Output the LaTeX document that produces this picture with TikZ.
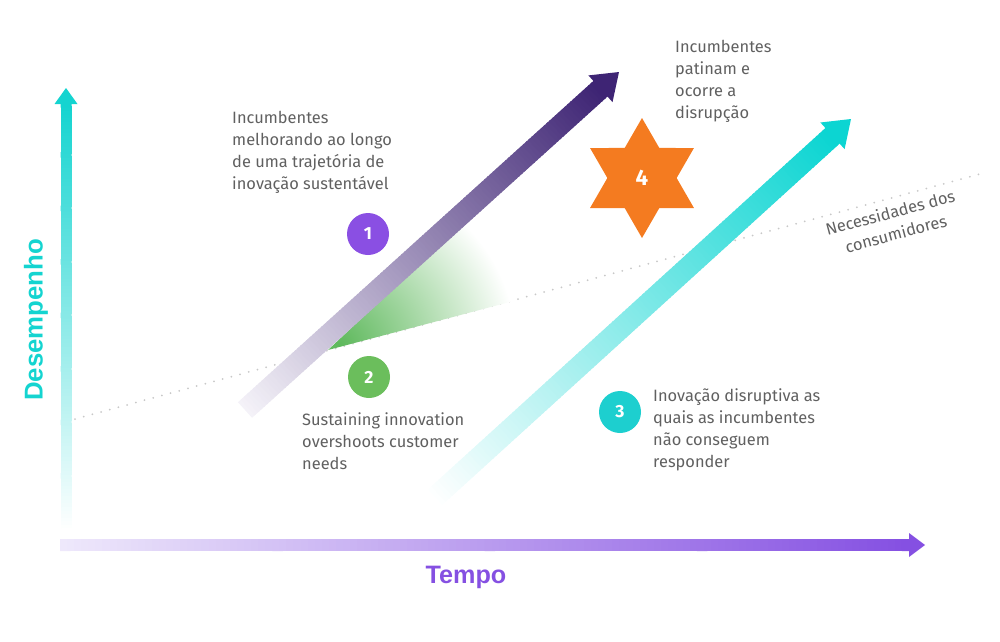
\documentclass[tikz,border=0pt]{standalone}
\usepackage{fontspec}
\setmainfont{Fira Sans}
\newfontfamily\axisfont{Liberation Sans}
\usetikzlibrary{calc,shapes.geometric}

\definecolor{textgray}{HTML}{606060}
\definecolor{dotgray}{HTML}{C8C8C8}
\definecolor{axiscyan}{HTML}{14D4D0}
\definecolor{axislav}{HTML}{EEE8FB}
\definecolor{axispurple}{HTML}{8550E2}
\definecolor{purplewhite}{HTML}{F4F2F8}
\definecolor{purpledeep}{HTML}{3E2474}
\definecolor{arrowcyan}{HTML}{0CD5D2}
\definecolor{wedgegreen}{HTML}{5DB85B}
\definecolor{dotpurple}{HTML}{8A4FE3}
\definecolor{dotgreen}{HTML}{6BBE5C}
\definecolor{dotcyan}{HTML}{1DCFCF}
\definecolor{starorange}{HTML}{F47B20}

\pgfdeclareradialshading{wedgefade}{\pgfpoint{0bp}{0bp}}{%
  color(0bp)=(wedgegreen); color(9bp)=(wedgegreen!60!white);
  color(22bp)=(white); color(50bp)=(white)}

% from, to, shaft width, head half width, head length, start colour, end colour
\newcommand{\fadearrow}[7]{%
  \coordinate (fa-base) at ($(#2)!#5!(#1)$);
  \foreach \i in {0,...,119}{%
    \pgfmathsetmacro{\shadepc}{\i*100/119}%
    \draw[line width=#3, #7!\shadepc!#6] ($(#1)!\i/120!(fa-base)$) -- ($(#1)!{(\i+1.5)/120}!(fa-base)$);
  }%
  \fill[#7] ($(fa-base)!#4!90:(#2)$) -- (#2) -- ($(fa-base)!#4!-90:(#2)$) -- cycle;
}

\tikzset{
  note/.style={anchor=west, align=left, inner sep=0pt, text=textgray,
    font=\fontsize{14}{18.7}\selectfont},
  numdot/.style={circle, minimum size=12.6mm, inner sep=0pt, text=white,
    font=\bfseries\fontsize{15}{15}\selectfont},
  axislabel/.style={font=\axisfont\bfseries\fontsize{21.5}{21.5}\selectfont},
  needline/.style={draw=dotgray, line width=0.6mm, dash pattern=on 0pt off 2.7mm, line cap=round},
}

\begin{document}
\begin{tikzpicture}[x=0.3mm,y=-0.3mm]
  \useasboundingbox (0,0) rectangle (1000,642);

  % customer needs line
  \coordinate (d0) at (75,419);
  \coordinate (d1) at (980,174);
  \draw[needline] (d0) -- (d1);

  % overshoot wedge
  \coordinate (w0) at (328,350);
  \coordinate (w1) at (540,150);
  \coordinate (w2) at (540,294);
  \path[path picture={\shade[shading=wedgefade] (w0) circle (190);}]
    (w0) -- (w1) -- (w2) -- cycle;

  % axes
  \coordinate (yo) at (66,532);
  \coordinate (yt) at (66,88);
  \coordinate (xo) at (60,545);
  \coordinate (xt) at (925,545);
  \fadearrow{yo}{yt}{3.3mm}{3.45mm}{4.8mm}{white}{axiscyan}
  \fadearrow{xo}{xt}{3.6mm}{3.6mm}{4.8mm}{axislav}{axispurple}

  % trajectories
  \coordinate (ps) at (245,410);
  \coordinate (pt) at (619,72);
  \coordinate (cs) at (432,500);
  \coordinate (ct) at (851,119);
  \fadearrow{ps}{pt}{6.3mm}{5.4mm}{7.5mm}{purplewhite}{purpledeep}
  \fadearrow{cs}{ct}{6.3mm}{5.4mm}{7.5mm}{white}{arrowcyan}

  \node[axislabel, text=axiscyan, rotate=90, font=\axisfont\bfseries\fontsize{22}{22}\selectfont] (ylab) at (36,320) {Desempenho};
  \node[axislabel, text=axispurple] (xlab) at (466,577) {Tempo};

  \node[numdot, fill=dotpurple] (n1) at (368,234) {1};
  \node[numdot, fill=dotgreen] (n2) at (369,377) {2};
  \node[numdot, fill=dotcyan] (n3) at (620,412) {3};
  \node[star, star points=6, star point ratio=1.732, minimum size=36mm, inner sep=0pt,
    fill=starorange, text=white, font=\bfseries\fontsize{19}{19}\selectfont] (n4) at (642,178) {4};

  \node[note] (t1) at (232,152) {Incumbentes\\melhorando ao longo\\de uma trajetória de\\inovação sustentável};
  \node[note] (t4) at (675,81) {Incumbentes\\patinam e\\ocorre a\\disrupção};
  \node[note] (t2) at (302,441) {Sustaining innovation\\overshoots customer\\needs};
  \node[note] (t3) at (653,430) {Inovação disruptiva as\\quais as incumbentes\\não conseguem\\responder};
  \node[note, anchor=center, align=center, rotate=15] (tneeds) at (893,223) {Necessidades dos\\consumidores};
\end{tikzpicture}
\end{document}
